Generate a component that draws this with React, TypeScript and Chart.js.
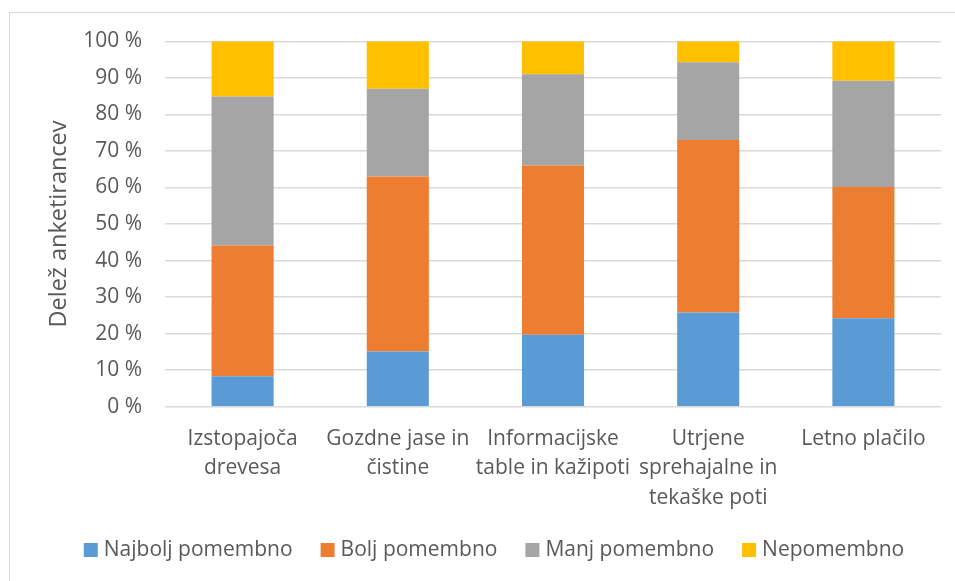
import React, { useEffect, useRef } from "react";
import { Chart, registerables } from "chart.js";

Chart.register(...registerables);

const categories: (string | string[])[] = [
  ["Izstopajoča", "drevesa"],
  ["Gozdne jase in", "čistine"],
  ["Informacijske", "table in kažipoti"],
  ["Utrjene", "sprehajalne in", "tekaške poti"],
  "Letno plačilo",
];

const seriesNames = ["Najbolj pomembno", "Bolj pomembno", "Manj pomembno", "Nepomembno"];
const najboljPomembno = [8.3, 15.1, 19.7, 25.8, 24.2];
const boljPomembno = [35.8, 47.9, 46.3, 47.2, 35.9];
const manjPomembno = [40.8, 24.0, 25.0, 21.3, 29.1];
const nepomembno = [15.1, 13.0, 9.0, 5.7, 10.8];
const seriesColors = ["#5B9BD5", "#ED7D31", "#A5A5A5", "#FFC000"];

const yTicks = [0, 10, 20, 30, 40, 50, 60, 70, 80, 90, 100];
const yTitle = "Delež anketirancev";

const FONT = "'Open Sans', sans-serif";
const TEXT = "#595959";
const GRID = "#D9D9D9";

// Outer frame of the chart and a legend laid out in one centred row.
const framePlugin = {
  id: "frameAndLegend",
  beforeDraw(chart: Chart) {
    const ctx = chart.ctx;
    ctx.save();
    ctx.fillStyle = "#ffffff";
    ctx.fillRect(0, 0, chart.width, chart.height);
    ctx.strokeStyle = GRID;
    ctx.lineWidth = 1;
    ctx.strokeRect(9.5, 12.5, chart.width + 50, chart.height + 50);
    ctx.restore();
  },
  afterDraw(chart: Chart) {
    const ctx = chart.ctx;
    ctx.save();
    ctx.font = `21px ${FONT}`;
    const box = 14;
    const gapText = 6;
    const gapItem = 28;
    const items = chart.data.datasets.map((ds) => ({
      label: String(ds.label),
      color: String(ds.backgroundColor),
      w: ctx.measureText(String(ds.label)).width,
    }));
    const total =
      items.reduce((s, it) => s + box + gapText + it.w, 0) + gapItem * (items.length - 1);
    let x = 494 - total / 2;
    const cy = 550;
    ctx.textBaseline = "middle";
    ctx.textAlign = "left";
    for (const it of items) {
      ctx.fillStyle = it.color;
      ctx.fillRect(x, cy - box / 2, box, box);
      ctx.fillStyle = TEXT;
      ctx.fillText(it.label, x + box + gapText, cy);
      x += box + gapText + it.w + gapItem;
    }
    ctx.restore();
  },
};

export default function App() {
  const canvasRef = useRef<HTMLCanvasElement | null>(null);

  useEffect(() => {
    if (!canvasRef.current) return;
    const values = [najboljPomembno, boljPomembno, manjPomembno, nepomembno];
    const chart = new Chart(canvasRef.current, {
      type: "bar",
      data: {
        labels: categories,
        datasets: seriesNames.map((name, i) => ({
          label: name,
          data: values[i],
          backgroundColor: seriesColors[i],
          borderWidth: 0,
          categoryPercentage: 1,
          barPercentage: 0.4,
        })),
      },
      options: {
        responsive: false,
        animation: false,
        devicePixelRatio: 1,
        layout: { padding: { top: 41.3, right: 14, left: 0, bottom: 0 } },
        plugins: {
          legend: { display: false },
          tooltip: { enabled: false },
        },
        scales: {
          x: {
            stacked: true,
            grid: { display: false, drawTicks: false },
            border: { display: false },
            ticks: {
              color: TEXT,
              font: { family: FONT, size: 21, lineHeight: 1.42 },
              padding: 17,
              maxRotation: 0,
              autoSkip: false,
            },
            afterFit(scale: any) {
              scale.height = 174.3;
            },
          },
          y: {
            stacked: true,
            min: 0,
            max: 100,
            afterBuildTicks(scale: any) {
              scale.ticks = yTicks.map((v) => ({ value: v }));
            },
            grid: { color: GRID, lineWidth: 1.5, drawTicks: false },
            border: { display: false },
            ticks: {
              color: TEXT,
              font: { family: FONT, size: 21 },
              padding: 23,
              callback: (v: any) => `${v}\u00a0%`,
            },
            title: {
              display: true,
              text: yTitle,
              color: TEXT,
              font: { family: FONT, size: 23.5 },
              padding: { top: 45.5, bottom: 0 },
            },
            afterFit(scale: any) {
              scale.width = 165;
            },
          },
        },
      },
      plugins: [framePlugin],
    });
    return () => chart.destroy();
  }, []);

  return (
    <div style={{ position: "fixed", left: 0, top: 0, width: 955, height: 581, background: "#fff" }}>
      <canvas ref={canvasRef} width={955} height={581} style={{ display: "block" }} />
    </div>
  );
}
